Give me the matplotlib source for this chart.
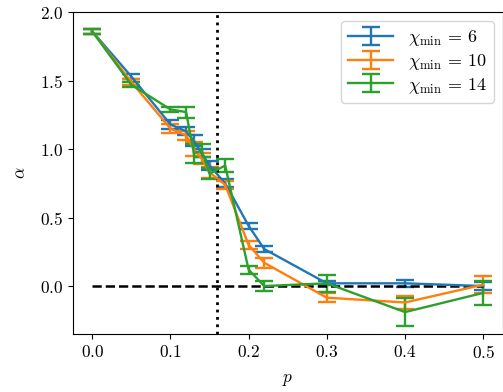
import matplotlib
matplotlib.use("Agg")
import matplotlib.pyplot as plt

plt.rcParams['font.family'] = 'serif'
plt.rcParams['font.serif'] = ['cmr10', 'DejaVu Serif']
plt.rcParams['mathtext.fontset'] = 'cm'
plt.rcParams['axes.formatter.use_mathtext'] = True
plt.rcParams['font.size'] = 12.5

p = [0.0, 0.05, 0.1, 0.12, 0.13, 0.14, 0.15, 0.17, 0.2, 0.22, 0.3, 0.4, 0.5]

alpha_6 = [1.86, 1.53, 1.18, 1.13, 1.06, 0.97, 0.88, 0.75, 0.44, 0.27, 0.02, 0.02, 0.0]
err_6 = [0.02, 0.02, 0.03, 0.03, 0.04, 0.03, 0.03, 0.03, 0.02, 0.02, 0.015, 0.025, 0.03]

alpha_10 = [1.86, 1.49, 1.15, 1.10, 1.00, 0.93, 0.83, 0.74, 0.30, 0.17, -0.085, -0.12, 0.01]
err_10 = [0.02, 0.02, 0.03, 0.03, 0.05, 0.04, 0.04, 0.03, 0.03, 0.035, 0.035, 0.05, 0.06]

alpha_14 = [1.86, 1.47, 1.29, 1.27, 0.97, 0.99, 0.82, 0.88, 0.12, 0.0, 0.02, -0.19, -0.05]
err_14 = [0.02, 0.02, 0.02, 0.04, 0.07, 0.05, 0.04, 0.05, 0.03, 0.035, 0.06, 0.10, 0.09]

chi_min = [6, 10, 14]
p_c = 0.16

fig = plt.figure(figsize=(5.03, 3.92), dpi=100)
ax = fig.add_axes([0.1445, 0.148, 0.855, 0.821])

for c, a, e in zip(chi_min, [alpha_6, alpha_10, alpha_14], [err_6, err_10, err_14]):
    ax.errorbar(p, a, yerr=e, capsize=6.5, lw=1.7, capthick=1.7,
                label=r'$\chi_{\rm min}\,=\,%d$' % c)

ax.plot([0, 0.5], [0, 0], 'k--', lw=1.8)
ax.axvline(p_c, color='k', ls=':', lw=2)

ax.set_xlim(-0.025, 0.525)
ax.set_ylim(-0.35, 2.0)
ax.set_xticks([0.0, 0.1, 0.2, 0.3, 0.4, 0.5])
ax.set_yticks([0.0, 0.5, 1.0, 1.5, 2.0])
ax.set_xlabel(r'$p$', labelpad=8)
ax.set_ylabel(r'$\alpha$', labelpad=8)
ax.legend(loc='upper right', handlelength=2.5, labelspacing=0.2, fontsize=13)

fig.savefig('out.png', dpi=100)
